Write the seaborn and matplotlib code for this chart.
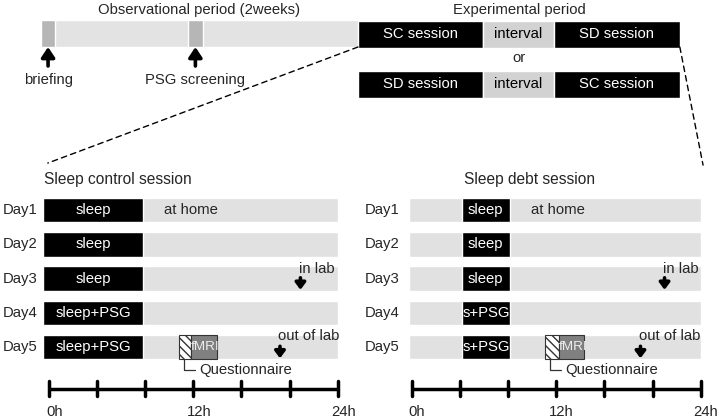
import numpy as np
import matplotlib
matplotlib.use("Agg")
import matplotlib.pyplot as plt
import seaborn as sns
from matplotlib.patches import ConnectionPatch

# ---------------------------------------------------------------------------
# data
# ---------------------------------------------------------------------------
obs_days = 14
obs_events = ["briefing", "PSG screening"]
obs_event_start = [0.0, 6.5]
obs_event_len = [0.65, 0.65]

exp_rows = [["SC session", "interval", "SD session"],
            ["SD session", "interval", "SC session"]]
exp_widths = [5.5, 3.15, 5.55]

days = ["Day1", "Day2", "Day3", "Day4", "Day5"]
row_start = {"control": -0.5, "debt": -0.2}
row_end = 24.0

sleep_start = {"control": -0.5, "debt": 4.15}
sleep_end = {"control": 7.85, "debt": 8.15}
sleep_labels = {"control": ["sleep", "sleep", "sleep", "sleep+PSG", "sleep+PSG"],
                "debt": ["sleep", "sleep", "sleep", "s+PSG", "s+PSG"]}

quest = {"control": (10.8, 11.8), "debt": (11.1, 12.2)}
fmri_end = {"control": 14.0, "debt": 14.3}
in_lab_hour = {"control": 20.9, "debt": 21.0}
out_lab_hour = {"control": 19.2, "debt": 19.0}
home_hour = {"control": 9.6, "debt": 9.9}

tick_hours = [0, 4, 8, 12, 16, 20, 24]
tick_labels = {0: "0h", 12: "12h", 24: "24h"}

titles = {"control": "Sleep control session", "debt": "Sleep debt session"}

# ---------------------------------------------------------------------------
W, H = 719, 419
sns.set_style("white")
plt.rcParams["font.family"] = ["Liberation Sans", "DejaVu Sans"]
FS = 10.7
ROW_GRAY = "#e1e1e1"

fig = plt.figure(figsize=(W / 100, H / 100), dpi=100)


def add_px_axes(x0, y0, x1, y1):
    ax = fig.add_axes([x0 / W, 1 - y1 / H, (x1 - x0) / W, (y1 - y0) / H])
    ax.set_axis_off()
    return ax


# ---------------------------------------------------------------------------
# top: observational + experimental period (x in days, y in pixels)
# ---------------------------------------------------------------------------
top = add_px_axes(0, 0, W, 160)
px_day = (358 - 40.7) / obs_days
top.set_xlim(-40.7 / px_day, (W - 40.7) / px_day)
top.set_ylim(160, 0)

top.barh(33.7, obs_days, left=0, height=27, color="#e3e3e3")
for name, s, l in zip(obs_events, obs_event_start, obs_event_len):
    top.barh(33.7, l, left=s, height=27, color="#b6b6b6")
    xc = s + l / 2
    top.annotate("", xy=(xc, 47), xytext=(xc, 66),
                 arrowprops=dict(arrowstyle="-|>,head_width=0.4,head_length=0.6",
                                 color="black", lw=2.6, shrinkA=0, shrinkB=0))
    top.text(xc, 80, name, ha="center", va="center", fontsize=FS)
top.text(obs_days / 2, 10, "Observational period (2weeks)", ha="center",
         va="center", fontsize=FS)

exp_y = [34.2, 84.4]
for y, labels in zip(exp_y, exp_rows):
    left = obs_days
    for lab, w in zip(labels, exp_widths):
        col = "#d2d2d2" if lab == "interval" else "black"
        top.barh(y, w, left=left, height=27, color=col)
        top.text(left + w / 2, y, lab, ha="center", va="center", fontsize=FS,
                 color="black" if lab == "interval" else "white")
        left += w
exp_total = obs_days + sum(exp_widths)
exp_mid = (obs_days + exp_total) / 2
top.text(exp_mid, 10, "Experimental period", ha="center", va="center", fontsize=FS)
top.text(exp_mid, 58, "or", ha="center", va="center", fontsize=FS)

# ---------------------------------------------------------------------------
# session panels (x in hours, y in day rows)
# ---------------------------------------------------------------------------
ROW_PX = 34.25
ROW0 = 210.0


def session_panel(kind, x0, x1, zero_px, px_h):
    ax = add_px_axes(x0, 160, x1, H)
    ax.set_xlim((x0 - zero_px) / px_h, (x1 - zero_px) / px_h)
    ax.set_ylim((H - ROW0) / ROW_PX, (160 - ROW0) / ROW_PX)
    hgt = 24.5 / ROW_PX
    y = np.arange(len(days))
    ax.barh(y, row_end - row_start[kind], left=row_start[kind], height=hgt,
            color=ROW_GRAY)
    ax.barh(y, sleep_end[kind] - sleep_start[kind], left=sleep_start[kind],
            height=hgt, color="black")
    day_x = (x0 + 3 - zero_px) / px_h if kind == "control" else (x0 + 5 - zero_px) / px_h
    for i, (d, sl) in enumerate(zip(days, sleep_labels[kind])):
        ax.text(day_x, i, d, ha="left", va="center", fontsize=FS)
        if sl.startswith("s+"):
            ax.text(sleep_start[kind] + 0.1, i, sl, ha="left", va="center",
                    fontsize=FS, color="white")
        else:
            ax.text((sleep_start[kind] + sleep_end[kind]) / 2, i, sl,
                    ha="center", va="center", fontsize=FS, color="white")
    ax.text(home_hour[kind], 0, "at home", ha="left", va="center", fontsize=FS)
    ax.text(sleep_start[kind] + (0.1 if kind == "control" else 0.2), -0.9,
            titles[kind], ha="left", va="center", fontsize=FS + 0.5)

    # in lab / out of lab arrows
    for row, hr, lab in [(2, in_lab_hour[kind], "in lab"),
                         (4, out_lab_hour[kind], "out of lab")]:
        ax.annotate("", xy=(hr, row + 0.33), xytext=(hr, row - 0.02),
                    arrowprops=dict(arrowstyle="-|>,head_width=0.3,head_length=0.4",
                                    color="black", lw=2.6, shrinkA=0, shrinkB=0))
        ax.text(hr - 0.15, row - 0.28 - (0.05 if row == 4 else 0.0), lab,
                ha="left", va="center", fontsize=FS)

    # questionnaire + fMRI
    q0, q1 = quest[kind]
    ax.barh(4, q1 - q0, left=q0, height=0.69, color="white", edgecolor="#333333",
            hatch="\\\\\\\\", lw=0.8)
    ax.barh(4, fmri_end[kind] - q1, left=q1, height=0.69, color="#808080",
            edgecolor="#333333", lw=0.8)
    ax.text(q1, 4, "fMRI", ha="left", va="center", fontsize=FS - 1,
            color="#eeeeee")
    qx = q0 + 0.4
    ax.plot([qx, qx, qx + 0.9], [4.35, 4.66, 4.66], color="#333333", lw=0.9)
    ax.text(qx + 1.25, 4.66, "Questionnaire", ha="left", va="center", fontsize=FS)

    # time axis
    ya = (389 - ROW0) / ROW_PX
    ax.plot([tick_hours[0], tick_hours[-1]], [ya, ya], color="black", lw=2.5,
            solid_capstyle="butt")
    for t in tick_hours:
        ax.plot([t, t], [ya - 0.22, ya + 0.2], color="black", lw=2.5)
        if t in tick_labels:
            ax.text(t + 0.45, ya + 0.66, tick_labels[t], ha="center", va="center",
                    fontsize=FS)
    return ax


left_ax = session_panel("control", 0, 360, 49.0, 12.03)
right_ax = session_panel("debt", 360, W, 411.7, 12.04)

# dashed zoom lines
for xa, axb, xb, yb in [(obs_days, left_ax, -0.1, -1.37),
                        (exp_total, right_ax, 24.2, -1.31)]:
    con = ConnectionPatch(xyA=(xa, 47), coordsA=top.transData,
                          xyB=(xb, yb), coordsB=axb.transData,
                          linestyle=(0, (4, 3)), color="black", lw=1)
    fig.add_artist(con)

fig.savefig("out.png", dpi=100)
